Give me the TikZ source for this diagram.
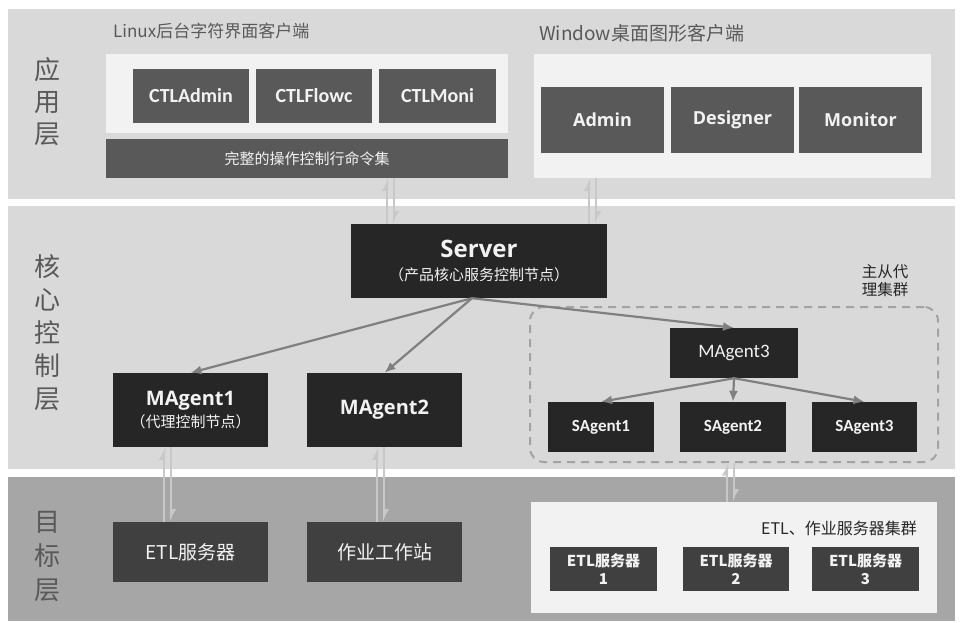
\documentclass[tikz,border=0pt]{standalone}
\usepackage{fontspec}
\setmainfont{Noto Sans CJK SC}
\newfontfamily\carlito{Carlito}
\newfontfamily\opens{Open Sans}
\usetikzlibrary{arrows.meta,calc}
\definecolor{band}{HTML}{D9D9D9}
\definecolor{bandlow}{HTML}{A6A6A6}
\definecolor{pale}{HTML}{F2F2F2}
\definecolor{btn}{HTML}{595959}
\definecolor{blk}{HTML}{262626}
\definecolor{etlc}{HTML}{404040}
\definecolor{lbl}{HTML}{595959}
\definecolor{arr}{HTML}{808080}
\definecolor{dblc}{HTML}{C8C8C8}
\definecolor{dashc}{HTML}{A3A3A3}
\definecolor{txtw}{HTML}{F2F2F2}
\tikzset{
  bandbox/.style={inner sep=0pt, outer sep=0pt},
  layerlbl/.style={inner sep=0pt, align=center, text=lbl},
  hdr/.style={inner sep=0pt, anchor=west, text=lbl},
  btnbox/.style={fill=btn, inner sep=0pt, text=txtw, align=center},
  blkbox/.style={fill=blk, inner sep=0pt, text=txtw, align=center},
  etlbox/.style={fill=etlc, inner sep=0pt, text=txtw, align=center},
  palebox/.style={fill=pale, inner sep=0pt},
  link/.style={draw=arr, line width=2.2pt, -{Latex[length=11pt,width=9pt]}, shorten >=0pt},
  dblarr/.style={draw=dblc, line width=2pt, -{Latex[harpoon,length=10pt,width=11pt]}},
}
\begin{document}
\begin{tikzpicture}[x=1pt,y=-1pt]
\useasboundingbox (0,0) rectangle (963,623);
\fill[white] (0,0) rectangle (963,623);
% layer bands
\node[bandbox, fill=band, minimum width=947pt, minimum height=190pt] (appband) at (481.5,104) {};
\node[bandbox, fill=band, minimum width=947pt, minimum height=263pt] (coreband) at (481.5,337.5) {};
\node[bandbox, fill=bandlow, minimum width=947pt, minimum height=144pt] (tgtband) at (481.5,549) {};
% layer labels
\node[layerlbl, font=\fontsize{26}{32}\selectfont] (lab1) at (47,102) {应\\用\\层};
\node[layerlbl, font=\fontsize{26}{33}\selectfont] (lab2) at (47,333) {核\\心\\控\\制\\层};
\node[layerlbl, font=\fontsize{26}{34}\selectfont] (lab3) at (47,557) {目\\标\\层};
% headers
\node[hdr, font=\fontsize{17}{20}\selectfont] (linuxhdr) at (113,31) {Linux后台字符界面客户端};
\node[hdr, font=\fontsize{19}{22}\selectfont] (winhdr) at (539,33) {Window桌面图形客户端};
% linux client
\node[palebox, minimum width=402pt, minimum height=79pt] (linuxbox) at (307,93.5) {};
\node[btnbox, minimum width=116pt, minimum height=54pt, font=\carlito\bfseries\fontsize{20}{24}\selectfont] (ctladmin) at (191,96) {CTLAdmin};
\node[btnbox, minimum width=116pt, minimum height=54pt, font=\carlito\bfseries\fontsize{20}{24}\selectfont] (ctlflowc) at (314,96) {CTLFlowc};
\node[btnbox, minimum width=117pt, minimum height=54pt, font=\carlito\bfseries\fontsize{20}{24}\selectfont] (ctlmoni) at (437.5,96) {CTLMoni};
\node[btnbox, minimum width=402pt, minimum height=39pt, font=\fontsize{15}{18}\selectfont] (cmdbar) at (307,158.5) {完整的操作控制行命令集};
% windows client
\node[palebox, minimum width=397pt, minimum height=124pt] (winbox) at (732.5,116) {};
\node[btnbox, minimum width=123pt, minimum height=66pt, font=\opens\bfseries\fontsize{18}{22}\selectfont] (admin) at (602.5,120) {Admin};
\node[btnbox, minimum width=123pt, minimum height=66pt, font=\opens\bfseries\fontsize{18}{22}\selectfont] (designer) at (732.5,120) {Designer};
\node[btnbox, minimum width=123pt, minimum height=66pt, font=\opens\bfseries\fontsize{18}{22}\selectfont] (monitor) at (860.5,120) {Monitor};
% core
\node[blkbox, minimum width=256pt, minimum height=74pt] (server) at (479,261)
  {{\opens\bfseries\fontsize{24}{28}\selectfont Server}\\[9pt]{\fontsize{15}{18}\selectfont （产品核心服务控制节点）}};
\node[blkbox, minimum width=155pt, minimum height=74pt] (magent1) at (190.5,410)
  {{\opens\bfseries\fontsize{20}{24}\selectfont MAgent1}\\[3pt]{\fontsize{15}{18}\selectfont （代理控制节点）}};
\node[blkbox, minimum width=155pt, minimum height=74pt, font=\opens\bfseries\fontsize{20}{24}\selectfont] (magent2) at (384.5,410) {MAgent2};
\node[draw=dashc, line width=2pt, dash pattern=on 8pt off 6pt, rounded corners=14pt, inner sep=0pt, minimum width=408pt, minimum height=155pt] (cluster) at (734,384.5) {};
\node[inner sep=0pt, align=center, text=blk, font=\fontsize{15.5}{18}\selectfont] (clusterlbl) at (885,281) {主从代\\理集群};
\node[blkbox, minimum width=128pt, minimum height=50pt, font=\carlito\fontsize{19}{22}\selectfont] (magent3) at (734,353) {MAgent3};
\node[blkbox, minimum width=106pt, minimum height=50pt, font=\carlito\bfseries\fontsize{17}{20}\selectfont] (sagent1) at (601,427) {SAgent1};
\node[blkbox, minimum width=106pt, minimum height=50pt, font=\carlito\bfseries\fontsize{17}{20}\selectfont] (sagent2) at (733,427) {SAgent2};
\node[blkbox, minimum width=105pt, minimum height=50pt, font=\carlito\bfseries\fontsize{17}{20}\selectfont] (sagent3) at (864.5,427) {SAgent3};
% target
\node[etlbox, minimum width=155pt, minimum height=60pt, font=\fontsize{19}{22}\selectfont] (etlsrv) at (190.5,552) {ETL服务器};
\node[etlbox, minimum width=155pt, minimum height=60pt, font=\fontsize{19}{22}\selectfont] (jobws) at (384.5,552) {作业工作站};
\node[palebox, minimum width=406pt, minimum height=111pt] (etlcluster) at (734,557.5) {};
\node[inner sep=0pt, anchor=east, text=blk, font=\fontsize{16}{19}\selectfont] (etlclbl) at (917,528) {ETL、作业服务器集群};
\node[etlbox, minimum width=107pt, minimum height=44pt, font=\bfseries\fontsize{15}{18}\selectfont] (etl1) at (603.5,569) {ETL服务器\\1};
\node[etlbox, minimum width=106pt, minimum height=44pt, font=\bfseries\fontsize{15}{18}\selectfont] (etl2) at (736,569) {ETL服务器\\2};
\node[etlbox, minimum width=107pt, minimum height=44pt, font=\bfseries\fontsize{15}{18}\selectfont] (etl3) at (865.5,569) {ETL服务器\\3};
% connectors from server
\coordinate (sx) at (472,0);
\draw[link] (server.south -| sx) -- (magent1.north);
\draw[link] (server.south -| sx) -- (magent2.north);
\draw[link] (server.south -| sx) -- (magent3.north);
\draw[link] (magent3.south) -- (sagent1.north);
\draw[link] (magent3.south) -- (sagent2.north);
\draw[link] (magent3.south) -- (sagent3.north);
% double arrows
\coordinate (a1) at (387,0); \coordinate (a2) at (394,0);
\coordinate (b1) at (589,0); \coordinate (b2) at (596,0);
\coordinate (c1) at (164,0); \coordinate (c2) at (171,0);
\coordinate (e1) at (377,0); \coordinate (e2) at (384,0);
\coordinate (f1) at (727,0); \coordinate (f2) at (734,0);
\draw[dblarr] (server.north -| a1) -- (cmdbar.south -| a1);
\draw[dblarr] (cmdbar.south -| a2) -- (server.north -| a2);
\draw[dblarr] (server.north -| b1) -- (winbox.south -| b1);
\draw[dblarr] (winbox.south -| b2) -- (server.north -| b2);
\draw[dblarr] (etlsrv.north -| c1) -- (magent1.south -| c1);
\draw[dblarr] (magent1.south -| c2) -- (etlsrv.north -| c2);
\draw[dblarr] (jobws.north -| e1) -- (magent2.south -| e1);
\draw[dblarr] (magent2.south -| e2) -- (jobws.north -| e2);
\draw[dblarr] (etlcluster.north -| f1) -- (cluster.south -| f1);
\draw[dblarr] (cluster.south -| f2) -- (etlcluster.north -| f2);
\end{tikzpicture}
\end{document}
